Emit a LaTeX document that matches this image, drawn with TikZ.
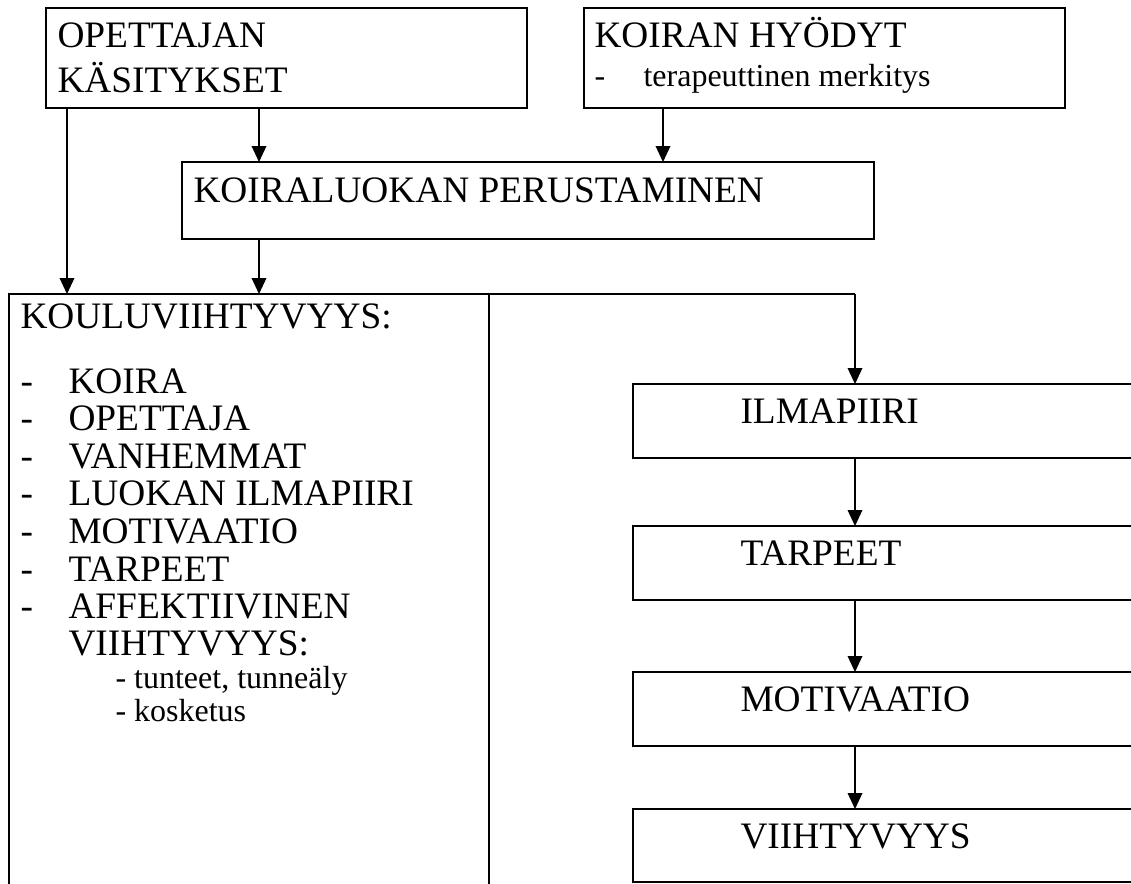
\documentclass[tikz,border=0pt]{standalone}
\usepackage{fontspec}
\setmainfont{Liberation Serif}
\usetikzlibrary{arrows.meta,positioning}
\tikzset{box/.style={rectangle, draw, line width=0.5pt, outer sep=0pt, inner sep=0pt, anchor=north west}}
\tikzset{teksti/.style={anchor=base west, inner sep=0pt, font=\fontsize{14}{16}\selectfont}}
\tikzset{pieni/.style={anchor=base west, inner sep=0pt, font=\fontsize{12}{14}\selectfont}}
\tikzset{line/.style={draw, line width=0.5pt, -{Triangle[length=6pt, width=5.5pt]}}}

\begin{document}
\begin{tikzpicture}[x=0.375pt, y=-0.375pt]
        \useasboundingbox (0,0) rectangle (1131,883);

        % ylarivi
        \node[box, minimum width=481*0.375pt, minimum height=100*0.375pt] (opettaja) at (46,8) {};
        \node[box, minimum width=481*0.375pt, minimum height=100*0.375pt] (hyodyt) at (584,8) {};
        \node[box, minimum width=692*0.375pt, minimum height=77*0.375pt] (perustaminen) at (182,162) {};

        \node[teksti] (op1) at (57,47) {OPETTAJAN};
        \node[teksti] (op2) at (57,92) {KÄSITYKSET};
        \node[teksti] (hy1) at (594,47) {KOIRAN HYÖDYT};
        \node[pieni]  (hy2) at (594,86) {-};
        \node[pieni]  (hy3) at (643,86) {terapeuttinen merkitys};
        \node[teksti] (pe1) at (193,202) {KOIRALUOKAN PERUSTAMINEN};

        % kouluviihtyvyys
        \coordinate (kulma) at (855,294);
        \draw[line width=0.5pt] (9,895) -- (9,294) -- (kulma);
        \draw[line width=0.5pt] (489,294) -- (489,895);

        \node[teksti] (ko) at (20,328) {KOULUVIIHTYVYYS:};
        \foreach \sana [count=\i] in {KOIRA, OPETTAJA, VANHEMMAT, LUOKAN ILMAPIIRI, MOTIVAATIO, TARPEET, AFFEKTIIVINEN}{
          \node[teksti] (viiva\i) at (20,355.4+37.6*\i) {-};
          \node[teksti] (kohta\i) at (68,355.4+37.6*\i) {\sana};
        }
        \node[teksti] (kohta8) at (68,655) {VIIHTYVYYS:};
        \node[pieni]  (tunne) at (115,688) {- tunteet, tunneäly};
        \node[pieni]  (koske) at (115,721) {- kosketus};

        % oikea sarake
        \node[box, minimum width=507*0.375pt, minimum height=74*0.375pt] (ilmapiiri) at (633,384) {};
        \node[box, minimum width=507*0.375pt, minimum height=74*0.375pt] (tarpeet) at (633,526) {};
        \node[box, minimum width=507*0.375pt, minimum height=74*0.375pt] (motivaatio) at (633,672) {};
        \node[box, minimum width=507*0.375pt, minimum height=73*0.375pt] (viihtyvyys) at (633,809) {};

        \node[teksti] (il) at (740,423) {ILMAPIIRI};
        \node[teksti] (ta) at (740,565) {TARPEET};
        \node[teksti] (mo) at (740,711) {MOTIVAATIO};
        \node[teksti] (vi) at (740,848) {VIIHTYVYYS};

        % nuolet
        \coordinate (k1) at (67,294);
        \coordinate (k2) at (259,294);
        \coordinate (k3) at (663,162);
        \path[line] (k1 |- opettaja.south) -- (k1);
        \path[line] (k2 |- opettaja.south) -- (k2 |- perustaminen.north);
        \path[line] (k3 |- hyodyt.south) -- (k3);
        \path[line] (k2 |- perustaminen.south) -- (k2);
        \path[line] (kulma) -- (kulma |- ilmapiiri.north);
        \path[line] (kulma |- ilmapiiri.south) -- (kulma |- tarpeet.north);
        \path[line] (kulma |- tarpeet.south) -- (kulma |- motivaatio.north);
        \path[line] (kulma |- motivaatio.south) -- (kulma |- viihtyvyys.north);
\end{tikzpicture}
\end{document}
